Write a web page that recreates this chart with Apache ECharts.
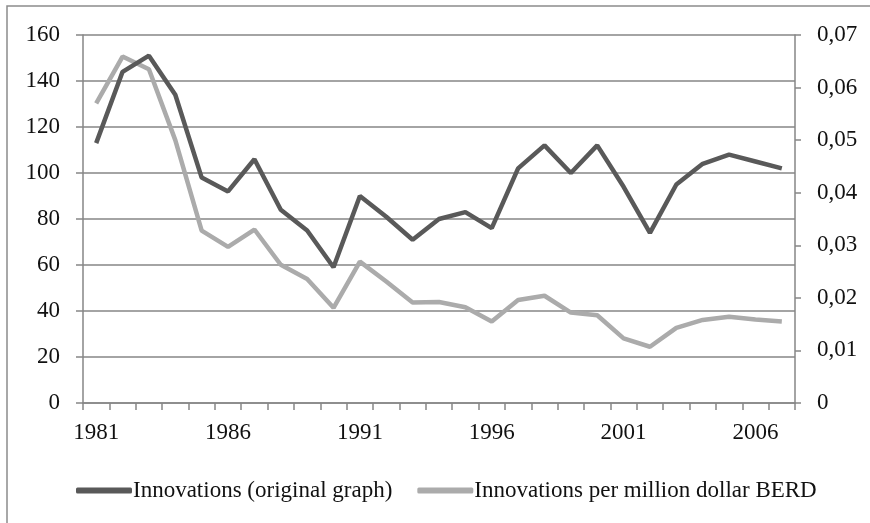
<!DOCTYPE html>
<html>
<head>
<meta charset="utf-8">
<script src="https://cdn.jsdelivr.net/npm/echarts@6/dist/echarts.min.js"></script>
<style>
html,body{margin:0;padding:0;background:#fff;}
#chart{width:870px;height:523px;}
</style>
</head>
<body>
<div id="chart"></div>
<script>
const years = ['1981','1982','1983','1984','1985','1986','1987','1988','1989','1990','1991','1992','1993','1994','1995','1996','1997','1998','1999','2000','2001','2002','2003','2004','2005','2006','2007'];
const innovations = [113,144,151,134,98,92,106,84,75,59,90,81,71,80,83,76,102,112,100,112,94,74,95,104,108,105,102];
const perMillionBERD = [0.0570,0.0659,0.0635,0.0500,0.0328,0.0297,0.0330,0.0263,0.0236,0.0181,0.0269,0.0231,0.0191,0.0192,0.0182,0.0155,0.0196,0.0204,0.0172,0.0167,0.0123,0.0107,0.0143,0.0158,0.0164,0.0159,0.0155];
const seriesNames = ['Innovations (original graph)','Innovations per million dollar BERD'];

const FONT = 'Liberation Serif';
const FS = 23;
const chart = echarts.init(document.getElementById('chart'));
chart.setOption({
  backgroundColor:'#fff',
  animation:false,
  graphic:[{type:'rect',shape:{x:7,y:6,width:900,height:600},style:{fill:'none',stroke:'#8c8c8c',lineWidth:1.5},silent:true}],
  grid:{left:83,right:75,top:35,bottom:120,containLabel:false},
  legend:{
    left:71, top:474,
    itemWidth:56, itemHeight:6, itemGap:25,
    icon:'roundRect',
    textStyle:{fontFamily:FONT,fontSize:FS,color:'#111',padding:[0,0,0,-4]},
    data:seriesNames
  },
  xAxis:{
    type:'category', data:years, boundaryGap:true,
    axisLine:{lineStyle:{color:'#868686',width:1.5}},
    axisTick:{show:true,interval:0,length:7,lineStyle:{color:'#868686',width:1.5}},
    axisLabel:{interval:4,fontFamily:FONT,fontSize:FS,color:'#111',margin:18}
  },
  yAxis:[{
    type:'value', min:0, max:160, interval:20, position:'left',
    axisLine:{show:true,lineStyle:{color:'#868686',width:1.5}},
    axisTick:{show:true,length:7,lineStyle:{color:'#868686',width:1.5}},
    splitLine:{lineStyle:{color:'#868686',width:1.5}},
    axisLabel:{fontFamily:FONT,fontSize:FS,color:'#111',margin:23}
  },{
    type:'value', min:0, max:0.07, interval:0.01, position:'right',
    axisLine:{show:true,lineStyle:{color:'#868686',width:1.5}},
    axisTick:{show:true,length:6,lineStyle:{color:'#868686',width:1.5}},
    splitLine:{show:false},
    axisLabel:{fontFamily:FONT,fontSize:FS,color:'#111',margin:22,
      formatter:v=> v===0 ? '0' : v.toFixed(2).replace('.',',')}
  }],
  series:[{
    name:seriesNames[0], type:'line', yAxisIndex:0, data:innovations,
    symbol:'none', lineStyle:{color:'#595959',width:4.5}, itemStyle:{color:'#595959'}, z:3
  },{
    name:seriesNames[1], type:'line', yAxisIndex:1, data:perMillionBERD,
    symbol:'none', lineStyle:{color:'#ababab',width:4.5}, itemStyle:{color:'#ababab'}, z:2
  }]
});
</script>
</body>
</html>
